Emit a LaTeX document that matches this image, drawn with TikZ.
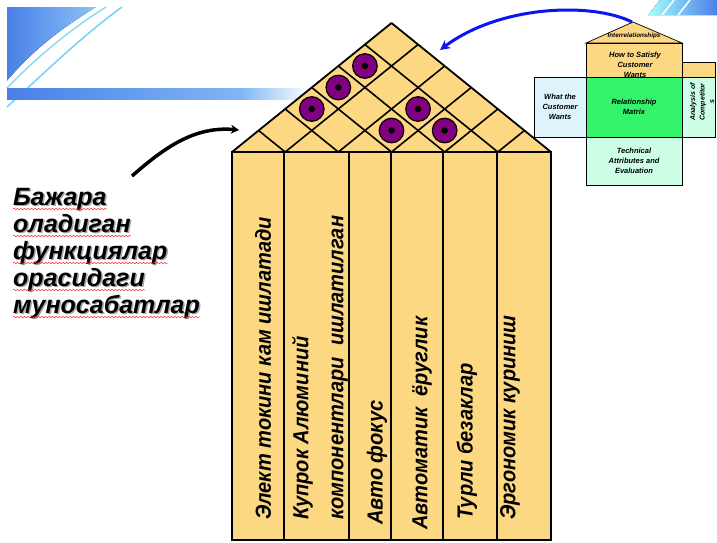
\documentclass[tikz,border=0pt]{standalone}
\usepackage{fontspec}
\setmainfont{Liberation Sans}
\newfontfamily\colfont{Liberation Sans}[FakeStretch=0.92]
\usetikzlibrary{arrows.meta,decorations.pathmorphing}

\definecolor{roofcol}{HTML}{FDD882}
\definecolor{ringcol}{HTML}{800080}
\definecolor{wantscol}{HTML}{DDF4FC}
\definecolor{matrixcol}{HTML}{33F46B}
\definecolor{mintcol}{HTML}{CCFFE6}
\definecolor{arrowblue}{HTML}{0A14F5}
\definecolor{bgdark}{HTML}{4A7FE8}
\definecolor{bglight}{HTML}{8CC4F7}

\tikzset{
  house/.style={draw=black, line width=1.8pt, fill=roofcol},
  coltext/.style={rotate=90, anchor=west, inner sep=0pt, align=left,
    font=\colfont\fontsize{21.8}{35}\selectfont\bfseries\itshape},
  lefttext/.style={anchor=base west, inner sep=0pt,
    font=\fontsize{25}{27}\selectfont\bfseries\itshape},
  spell/.style={red!85!white, line width=0.5pt, decorate,
    decoration={snake, amplitude=0.7pt, segment length=3.5pt}},
  qfdbox/.style={draw=black, line width=0.7pt},
  qfdtext/.style={align=center, inner sep=0pt,
    font=\fontsize{7.5}{10}\selectfont\bfseries\itshape},
  relmark/.style={draw=black, line width=1.2pt, fill=ringcol}
}

\begin{document}
\begin{tikzpicture}[x=1pt, y=-1pt]
    \useasboundingbox (0,0) rectangle (717,542);
    \fill[white] (0,0) rectangle (717,542);

    % Background streaks (top left)
    \fill[left color=bgdark, right color=bglight] (7,7) -- (97,7) .. controls (60,28) and (28,55) .. (7,81) -- cycle;
    \draw[white, line width=2.5pt] (7,83) .. controls (30,57) and (62,30) .. (99,7);
    \draw[cyan!45, line width=1.5pt] (7,88) .. controls (32,62) and (66,32) .. (106,7);
    \draw[cyan!55, line width=1.5pt] (7,107) .. controls (42,75) and (82,36) .. (122,7);
    \fill[left color=bgdark, right color=bglight!80!bgdark] (7,88) rectangle (240,99);
    \fill[left color=bglight!80!bgdark, right color=white] (240,88) rectangle (310,99);

    % Background streaks (top right)
    \fill[left color=cyan!35, right color=bgdark] (648,15) -- (660,0) -- (717,0) -- (717,15) -- cycle;
    \draw[white, line width=1.5pt] (662,15) -- (674,0);
    \draw[white, line width=1.5pt] (678,15) -- (690,0);

    % Columns
    \filldraw[house] (232,152) rectangle (284,540);
    \filldraw[house] (284,152) rectangle (349,540);
    \filldraw[house] (349,152) rectangle (391,540);
    \filldraw[house] (391,152) rectangle (443,540);
    \filldraw[house] (443,152) rectangle (497,540);
    \filldraw[house] (497,152) rectangle (551,540);

    % Roof with correlation grid
    \filldraw[house, line join=round] (232,152) -- (391.5,23) -- (551,152) -- cycle;
    \foreach \k in {1,...,5} {
        \draw[line width=1.6pt] (391.5-26.58*\k, 23+21.5*\k) -- ++({26.58*(6-\k)}, {21.5*(6-\k)});
        \draw[line width=1.6pt] (391.5+26.58*\k, 23+21.5*\k) -- ++({-26.58*(6-\k)}, {21.5*(6-\k)});
    }

    % Relationship marks
    \foreach \i/\j in {1/0, 2/0, 3/0, 1/2, 2/2, 1/3} {
        \filldraw[relmark] ({391.5+26.58*(\j-\i)}, {23+21.5*(\i+\j+1)}) circle[radius=12.3];
        \fill[black] ({391.5+26.58*(\j-\i)}, {23+21.5*(\i+\j+1)}) circle[radius=3.2];
    }

    % Column labels
    \node[coltext] (c1) at (263,520) {Элект токини кам ишлатади};
    \node[coltext] (c2) at (320,520) {Купрок Алюминий\\компонентлари\ \ ишлатилган};
    \node[coltext] (c3) at (377,525) {Авто фокус};
    \node[coltext] (c4) at (422,530) {Автоматик\ \ ёруглик};
    \node[coltext] (c5) at (467,520) {Турли безаклар};
    \node[coltext] (c6) at (510,520) {Эргономик куриниш};

    % Left caption (shadow first)
    \node[lefttext, gray!70] (s1) at (14.5,206.5) {Бажара};
    \node[lefttext, gray!70] (s2) at (14.5,233.5) {оладиган};
    \node[lefttext, gray!70] (s3) at (14.5,260.5) {функциялар};
    \node[lefttext, gray!70] (s4) at (14.5,287.5) {орасидаги};
    \node[lefttext, gray!70] (s5) at (14.5,314.5) {муносабатлар};
    \node[lefttext] (w1) at (13,205) {Бажара};
    \node[lefttext] (w2) at (13,232) {оладиган};
    \node[lefttext] (w3) at (13,259) {функциялар};
    \node[lefttext] (w4) at (13,286) {орасидаги};
    \node[lefttext] (w5) at (13,313) {муносабатлар};
    \draw[spell] ([yshift=-4pt]w1.base west) -- ([yshift=-4pt]w1.base east);
    \draw[spell] ([yshift=-4pt]w2.base west) -- ([yshift=-4pt]w2.base east);
    \draw[spell] ([yshift=-4pt]w3.base west) -- ([yshift=-4pt]w3.base east);
    \draw[spell] ([yshift=-4pt]w4.base west) -- ([yshift=-4pt]w4.base east);
    \draw[spell] ([yshift=-4pt]w5.base west) -- ([yshift=-4pt]w5.base east);

    % Small house of quality
    \filldraw[qfdbox, fill=roofcol] (586,43) -- (633,22) -- (682,43) -- cycle;
    \filldraw[qfdbox, fill=roofcol] (586,43) rectangle (682,77);
    \filldraw[qfdbox, fill=roofcol] (682,62) rectangle (715,77);
    \filldraw[qfdbox, fill=wantscol] (534,77) rectangle (586,137);
    \filldraw[qfdbox, fill=matrixcol] (586,77) rectangle (682,137);
    \filldraw[qfdbox, fill=mintcol] (682,77) rectangle (715,137);
    \filldraw[qfdbox, fill=mintcol] (586,137) rectangle (682,185);

    \node[qfdtext, font=\fontsize{6.3}{7}\selectfont\bfseries\itshape] (inter) at (634,36) {Interrelationships};
    \node[qfdtext] (how) at (635,65) {How to Satisfy\\Customer\\Wants};
    \node[qfdtext] (what) at (560,107) {What the\\Customer\\Wants};
    \node[qfdtext] (rel) at (634,107) {Relationship\\Matrix};
    \node[qfdtext] (tech) at (634,161) {Technical\\Attributes and\\Evaluation};
    \node[qfdtext, rotate=90, font=\fontsize{7}{9.5}\selectfont\bfseries\itshape] (comp) at (702,102) {Analysis of\\Competitor\\s};

    % Arrows pointing at the roof
    \coordinate (leftstart) at (132,176);
    \coordinate (leftend) at (239,130);
    \draw[line width=3.5pt, -{Stealth[length=8pt, width=9pt]}] (leftstart) .. controls (165,147) and (195,126) .. (leftend);

    \coordinate (qfdtop) at (632,22);
    \coordinate (roofhit) at (440,50);
    \draw[arrowblue, line width=3pt, -{Stealth[length=10pt, width=10pt]}] (qfdtop) .. controls (592,2) and (500,5) .. (roofhit);
\end{tikzpicture}
\end{document}
